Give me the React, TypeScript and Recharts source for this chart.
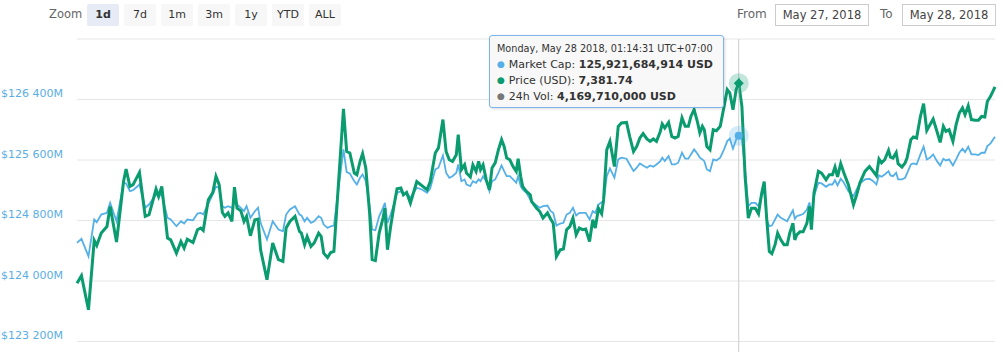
import React from "react";
import { LineChart, Line, XAxis, YAxis, CartesianGrid, Tooltip } from "recharts";

// minutes since the first sample (24h window)
const times = [
  0, 7, 18, 27, 31, 38, 47, 52, 62, 73,
  77, 83, 88, 98, 107, 113, 124, 128, 133, 142,
  147, 156, 163, 168, 173, 182, 189, 194, 198, 206,
  213, 218, 223, 228, 232, 237, 243, 247, 251, 257,
  262, 266, 272, 279, 284, 288, 298, 307, 316, 323,
  328, 334, 342, 349, 352, 357, 361, 367, 372, 379,
  383, 387, 393, 398, 403, 418, 423, 428, 435, 439,
  444, 448, 453, 459, 463, 468, 474, 480, 483, 487,
  492, 497, 502, 508, 512, 517, 523, 533, 541, 549,
  554, 562, 567, 574, 579, 584, 589, 595, 598, 603,
  608, 611, 617, 621, 626, 630, 633, 637, 642, 647,
  651, 656, 661, 666, 670, 674, 679, 684, 689, 692,
  696, 699, 705, 711, 713, 721, 726, 731, 738, 743,
  747, 752, 758, 763, 768, 773, 778, 783, 788, 793,
  798, 804, 809, 813, 818, 823, 826, 831, 836, 843,
  849, 854, 862, 867, 873, 878, 883, 888, 894, 899,
  904, 909, 915, 918, 922, 928, 933, 938, 943, 949,
  954, 959, 963, 968, 973, 977, 981, 984, 988, 993,
  998, 1003, 1009, 1015, 1020, 1024, 1029, 1034, 1038, 1043,
  1048, 1053, 1058, 1064, 1069, 1074, 1078, 1082, 1086, 1090,
  1095, 1099, 1104, 1109, 1114, 1118, 1123, 1126, 1129, 1134,
  1139, 1145, 1149, 1152, 1156, 1163, 1168, 1175, 1180, 1185,
  1189, 1193, 1198, 1203, 1210, 1218, 1223, 1228, 1236, 1243,
  1249, 1254, 1258, 1262, 1267, 1273, 1276, 1280, 1285, 1288,
  1294, 1299, 1302, 1308, 1312, 1317, 1323, 1328, 1333, 1338,
  1343, 1349, 1354, 1359, 1363, 1368, 1374, 1379, 1384, 1389,
  1393, 1398, 1403, 1409, 1414, 1419, 1424, 1428, 1433, 1440,
];

// market cap, millions of USD
const marketCap = [
  124504, 124557, 124326, 124813, 124777, 124879, 124901, 125034, 124790, 125299,
  125290, 125188, 125201, 125276, 124968, 125011, 125144, 125121, 125144, 124835,
  124813, 124724, 124790, 124760, 124813, 124803, 124892, 124901, 124879, 125025,
  125144, 125246, 125233, 124989, 124968, 124989, 124968, 125034, 125011, 124968,
  124923, 124989, 124835, 124923, 124968, 124769, 124548, 124790, 124680, 124658,
  124879, 124945, 124989, 124879, 124866, 124790, 124835, 124769, 124790, 124856,
  124835, 124746, 124703, 124724, 124733, 125740, 125439, 125422, 125320, 125276,
  125365, 125409, 125320, 124989, 124680, 124671, 124856, 124968, 125034, 124769,
  124879, 125011, 125166, 125188, 125144, 125166, 125100, 125233, 125210, 125166,
  125223, 125475, 125498, 125661, 125431, 125365, 125386, 125431, 125541, 125320,
  125343, 125276, 125254, 125320, 125299, 125343, 125320, 125386, 125320, 125188,
  125320, 125343, 125431, 125528, 125453, 125386, 125386, 125343, 125299, 125386,
  125254, 125210, 125166, 125078, 125051, 124998, 124968, 124989, 124998, 124923,
  124901, 124733, 124760, 124769, 124879, 124901, 124968, 124866, 124901, 124901,
  124901, 124813, 124923, 124901, 125011, 125042, 125034, 125386, 125488, 125365,
  125608, 125630, 125617, 125541, 125453, 125498, 125555, 125528, 125498, 125528,
  125511, 125541, 125585, 125630, 125585, 125651, 125541, 125541, 125564, 125696,
  125617, 125617, 125674, 125740, 125687, 125630, 125608, 125585, 125475, 125453,
  125608, 125594, 125630, 125740, 125850, 125882, 125749, 125873, 125921.684914, 125873,
  125475, 124989, 125034, 125034, 124989, 125144, 125188, 124813, 124724, 124733,
  124813, 124879, 124835, 124813, 124790, 124856, 124936, 124822, 124856, 124872,
  124885, 124945, 125038, 124866, 125121, 125299, 125290, 125246, 125276, 125276,
  125333, 125263, 125352, 125299, 125188, 125121, 125210, 125290, 125343, 125352,
  125320, 125276, 125396, 125378, 125409, 125453, 125396, 125386, 125431, 125343,
  125343, 125365, 125422, 125541, 125555, 125541, 125674, 125776, 125608, 125630,
  125674, 125585, 125528, 125617, 125594, 125608, 125528, 125608, 125696, 125749,
  125704, 125776, 125674, 125674, 125665, 125696, 125696, 125784, 125820, 125908,
];

// price, USD
const price = [
  7299.1, 7302.2, 7288.1, 7316.8, 7314.7, 7319.8, 7322.5, 7330.8, 7316.1, 7341.1,
  7346.3, 7339.1, 7339.8, 7344.9, 7326.7, 7327.4, 7338.0, 7334.9, 7339.1, 7317.7,
  7317.0, 7311.5, 7316.3, 7313.6, 7317.3, 7315.9, 7321.2, 7321.9, 7320.9, 7333.6,
  7336.6, 7343.2, 7339.8, 7328.3, 7326.7, 7328.1, 7324.6, 7338.8, 7330.1, 7329.0,
  7324.6, 7326.7, 7318.7, 7325.3, 7325.6, 7312.9, 7300.5, 7315.7, 7308.8, 7308.1,
  7321.9, 7324.6, 7326.7, 7320.5, 7319.8, 7315.0, 7318.4, 7314.3, 7315.7, 7319.8,
  7318.4, 7311.5, 7309.7, 7311.8, 7312.2, 7371.1, 7353.5, 7352.9, 7344.6, 7343.9,
  7349.4, 7352.6, 7346.7, 7328.1, 7308.8, 7308.4, 7319.8, 7326.0, 7330.1, 7312.9,
  7322.5, 7330.8, 7338.1, 7338.4, 7335.6, 7336.6, 7332.2, 7341.1, 7339.4, 7337.7,
  7341.0, 7352.9, 7355.0, 7366.7, 7353.5, 7350.1, 7349.4, 7352.2, 7360.5, 7346.0,
  7348.0, 7344.6, 7343.0, 7348.0, 7345.3, 7349.4, 7346.0, 7348.0, 7341.8, 7337.7,
  7346.7, 7348.8, 7354.2, 7358.4, 7355.6, 7350.8, 7350.1, 7347.3, 7345.3, 7350.5,
  7343.2, 7339.1, 7337.0, 7335.6, 7332.9, 7330.1, 7328.7, 7326.0, 7328.1, 7325.6,
  7323.9, 7310.1, 7312.9, 7313.2, 7321.2, 7322.5, 7326.0, 7319.1, 7321.9, 7321.2,
  7321.5, 7316.3, 7325.3, 7321.9, 7330.1, 7327.8, 7333.6, 7354.2, 7357.7, 7347.3,
  7363.9, 7365.3, 7365.5, 7359.7, 7353.5, 7355.6, 7359.1, 7360.9, 7358.7, 7357.7,
  7358.7, 7357.7, 7361.8, 7364.9, 7363.2, 7365.5, 7359.7, 7359.1, 7359.7, 7367.4,
  7363.9, 7363.9, 7368.0, 7370.8, 7366.0, 7361.2, 7363.9, 7362.5, 7355.6, 7354.2,
  7362.5, 7362.1, 7363.9, 7372.1, 7379.1, 7377.7, 7370.8, 7379.1, 7381.74, 7372.1,
  7343.2, 7326.0, 7330.1, 7330.1, 7327.8, 7336.3, 7341.1, 7325.3, 7312.2, 7311.3,
  7315.0, 7319.8, 7317.0, 7315.0, 7315.0, 7319.8, 7323.9, 7317.0, 7319.1, 7320.3,
  7320.3, 7323.9, 7330.8, 7321.2, 7336.3, 7345.3, 7344.6, 7341.8, 7343.9, 7343.9,
  7347.1, 7343.0, 7348.5, 7344.6, 7339.8, 7331.5, 7335.6, 7340.5, 7345.3, 7347.3,
  7345.3, 7343.5, 7350.4, 7348.8, 7350.1, 7354.0, 7351.2, 7350.8, 7353.1, 7348.5,
  7347.1, 7348.8, 7350.8, 7358.4, 7359.5, 7359.1, 7368.0, 7373.3, 7362.2, 7364.6,
  7366.9, 7361.8, 7357.3, 7363.9, 7361.8, 7362.5, 7357.7, 7364.6, 7369.4, 7371.5,
  7368.7, 7372.4, 7366.7, 7366.4, 7366.4, 7368.0, 7367.8, 7374.2, 7376.3, 7380.2,
];

const capTicks = [122400, 123200, 124000, 124800, 125600, 126400, 127200];
const labelledTicks = [123200, 124000, 124800, 125600, 126400];
const zoomButtons = ["1d", "7d", "1m", "3m", "1y", "YTD", "ALL"];
const fromDate = "May 27, 2018";
const toDate = "May 28, 2018";
const hoverIndex = 188;
const hoverVolume = 4169710000;

const data = times.map((t, i) => ({ t, cap: marketCap[i], price: price[i] }));

const BLUE = "#55b0e8";
const GREEN = "#0a9b6f";
const FONT = '"DejaVu Sans", sans-serif';

// first sample is 07:56:31 on Sunday May 27 2018 (UTC+7)
const START_SEC = 7 * 3600 + 56 * 60 + 31;
const pad = (n: number) => String(n).padStart(2, "0");
function fmtTime(t: number) {
  const s = START_SEC + t * 60;
  const day = Math.floor(s / 86400);
  const r = s % 86400;
  const wd = ["Sunday", "Monday"][day];
  return `${wd}, May ${27 + day} 2018, ${pad(Math.floor(r / 3600))}:${pad(
    Math.floor((r % 3600) / 60)
  )}:${pad(r % 60)} UTC+07:00`;
}

const fmtCap = (v: number) =>
  "$" + String(v).replace(/\B(?=(\d{3})+(?!\d))/g, " ") + "M";

const CapTick = (props: any) => {
  const { y, payload } = props;
  if (!labelledTicks.includes(payload.value)) return <g />;
  return (
    <text x={1} y={y - 2.5} fill="#5aaee4" fontSize={11} fontFamily={FONT}>
      {fmtCap(payload.value)}
    </text>
  );
};

const Bullet = ({ color }: { color: string }) => (
  <span style={{ color, fontSize: 9, marginRight: 4, position: "relative", top: -1 }}>●</span>
);

const TipBox = ({ active, payload }: any) => {
  if (!active || !payload || !payload.length) return null;
  const p = payload[0].payload;
  return (
    <div
      style={{
        width: 226,
        height: 66,
        padding: "5px 0 0 7px",
        background: "rgba(247,247,247,0.9)",
        border: "1px solid #7cb5ec",
        borderRadius: 3,
        boxShadow: "1px 1px 3px rgba(0,0,0,0.15)",
        fontFamily: FONT,
        color: "#333",
        lineHeight: "15px",
        whiteSpace: "nowrap",
      }}
    >
      <div style={{ fontSize: 9.7, marginBottom: 1 }}>{fmtTime(p.t)}</div>
      <div style={{ fontSize: 11 }}>
        <Bullet color={BLUE} />
        Market Cap: <b>{Math.round(p.cap * 1e6).toLocaleString("en-US")} USD</b>
      </div>
      <div style={{ fontSize: 11 }}>
        <Bullet color={GREEN} />
        Price (USD): <b>{p.price.toLocaleString("en-US", { minimumFractionDigits: 2 })}</b>
      </div>
      <div style={{ fontSize: 11 }}>
        <Bullet color="#777" />
        24h Vol: <b>{hoverVolume.toLocaleString("en-US")} USD</b>
      </div>
    </div>
  );
};

const capDot = (p: any) => (
  <g>
    <circle cx={p.cx} cy={p.cy} r={10} fill={BLUE} fillOpacity={0.25} />
    <circle cx={p.cx} cy={p.cy} r={4} fill={BLUE} />
  </g>
);

const priceDot = (p: any) => (
  <g>
    <circle cx={p.cx} cy={p.cy} r={10} fill={GREEN} fillOpacity={0.25} />
    <polygon
      points={`${p.cx},${p.cy - 5} ${p.cx + 5},${p.cy} ${p.cx},${p.cy + 5} ${p.cx - 5},${p.cy}`}
      fill={GREEN}
    />
  </g>
);

const btn: React.CSSProperties = {
  position: "absolute",
  top: 4,
  width: 32,
  height: 22,
  lineHeight: "22px",
  textAlign: "center",
  background: "#f7f7f7",
  borderRadius: 2,
  fontSize: 11,
  color: "#333",
};

const dateBox: React.CSSProperties = {
  position: "absolute",
  top: 4,
  width: 92,
  height: 20,
  lineHeight: "20px",
  textAlign: "center",
  border: "1px solid #ccc",
  fontSize: 11.5,
  color: "#444",
};

export default function App() {
  return (
    <div
      style={{
        position: "absolute",
        left: 0,
        top: 0,
        width: 1005,
        height: 352,
        overflow: "hidden",
        background: "#fff",
        fontFamily: FONT,
      }}
    >
      <div style={{ position: "absolute", left: 49, top: 7, fontSize: 11.5, color: "#666" }}>Zoom</div>
      {zoomButtons.map((b, i) => (
        <div
          key={b}
          style={{
            ...btn,
            left: 87 + i * 37,
            background: i === 0 ? "#e6ebf5" : "#f7f7f7",
            fontWeight: i === 0 ? "bold" : "normal",
          }}
        >
          {b}
        </div>
      ))}
      <div style={{ position: "absolute", left: 737, top: 7, fontSize: 12, color: "#666" }}>From</div>
      <div style={{ ...dateBox, left: 775 }}>{fromDate}</div>
      <div style={{ position: "absolute", left: 880, top: 7, fontSize: 12, color: "#666" }}>To</div>
      <div style={{ ...dateBox, left: 902 }}>{toDate}</div>

      <div style={{ position: "absolute", left: 0, top: 0 }}>
        <LineChart
          width={1005}
          height={410}
          data={data}
          margin={{ top: 39, right: 10, bottom: 8, left: 0 }}
        >
          <CartesianGrid vertical={false} stroke="#e6e6e6" yAxisId="cap" />
          <XAxis type="number" dataKey="t" domain={[0, 1440]} hide />
          <YAxis
            yAxisId="cap"
            width={77}
            domain={[122400, 127200]}
            ticks={capTicks}
            interval={0}
            axisLine={false}
            tickLine={false}
            tick={<CapTick />}
          />
          <YAxis yAxisId="price" orientation="right" domain={[7250, 7400]} hide />
          <Tooltip
            defaultIndex={hoverIndex}
            active
            position={{ x: 489, y: 35 }}
            cursor={{ stroke: "#cccccc", strokeWidth: 1 }}
            content={<TipBox />}
            isAnimationActive={false}
            wrapperStyle={{ zIndex: 5 }}
          />
          <Line
            yAxisId="cap"
            type="linear"
            dataKey="cap"
            stroke={BLUE}
            strokeWidth={1.8}
            dot={false}
            activeDot={capDot}
            isAnimationActive={false}
          />
          <Line
            yAxisId="price"
            type="linear"
            dataKey="price"
            stroke={GREEN}
            strokeWidth={3}
            dot={false}
            activeDot={priceDot}
            isAnimationActive={false}
          />
        </LineChart>
      </div>
    </div>
  );
}
